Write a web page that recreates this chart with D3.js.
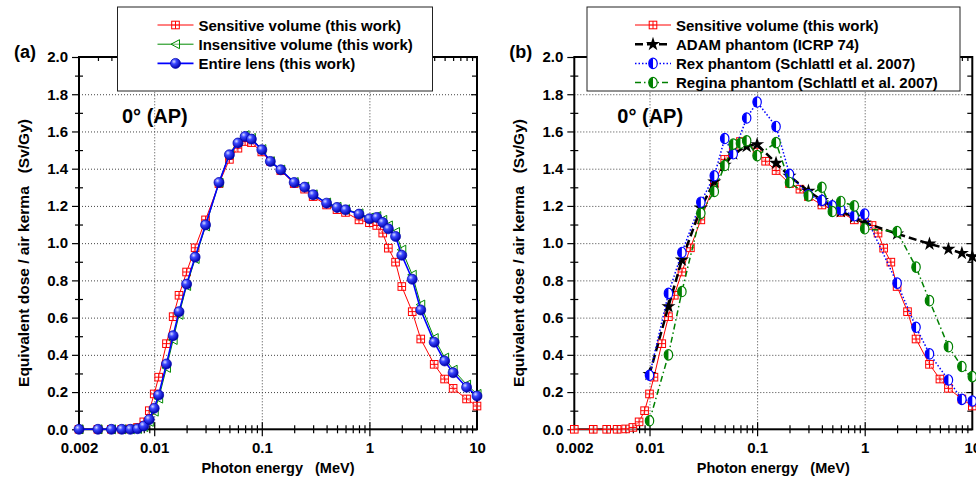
<!DOCTYPE html>
<html>
<head>
<meta charset="utf-8">
<script src="https://d3js.org/d3.v7.min.js"></script>
<style>
    body { margin: 0; background: #fff; }
    svg { display: block; font-family: "Liberation Sans", Arial, sans-serif; font-weight: bold; }
    .pre { white-space: pre; }
</style>
</head>
<body>
<svg id="drawing_region"></svg>
<script>
// photon energies (MeV) used for the lens model of this work
const energies = [0.002, 0.003, 0.004, 0.005, 0.006, 0.007, 0.008, 0.009,
    0.01, 0.011, 0.013, 0.015, 0.017, 0.02, 0.024, 0.03,
    0.04, 0.05, 0.06, 0.07, 0.08, 0.1, 0.12, 0.15,
    0.2, 0.25, 0.3, 0.4, 0.5, 0.6, 0.8, 1,
    1.17, 1.33, 1.5, 1.75, 2, 2.5, 3, 4,
    5, 6, 8, 10];

const sensitiveVolume = [0, 0, 0, 0, 0.002, 0.01, 0.04, 0.10,
    0.19, 0.28, 0.46, 0.605, 0.72, 0.845, 0.975, 1.125,
    1.32, 1.45, 1.51, 1.546, 1.54, 1.49, 1.44, 1.39,
    1.32, 1.29, 1.25, 1.205, 1.18, 1.165, 1.125, 1.11,
    1.095, 1.054, 0.973, 0.898, 0.767, 0.632, 0.485, 0.349,
    0.27, 0.22, 0.163, 0.125];

const insensitiveVolume = [0, 0, 0, 0, 0, 0.002, 0.012, 0.04,
    0.095, 0.165, 0.33, 0.48, 0.615, 0.77, 0.915, 1.09,
    1.325, 1.48, 1.545, 1.58, 1.565, 1.505, 1.44, 1.395,
    1.328, 1.303, 1.262, 1.218, 1.195, 1.182, 1.16, 1.137,
    1.145, 1.125, 1.095, 1.06, 0.965, 0.83, 0.67, 0.49,
    0.385, 0.32, 0.24, 0.19];

const entireLens = [0, 0, 0, 0, 0, 0.003, 0.018, 0.053,
    0.113, 0.184, 0.351, 0.503, 0.632, 0.78, 0.925, 1.098,
    1.326, 1.475, 1.538, 1.573, 1.559, 1.502, 1.439, 1.394,
    1.326, 1.301, 1.26, 1.215, 1.192, 1.179, 1.156, 1.131,
    1.138, 1.111, 1.077, 1.036, 0.935, 0.806, 0.641, 0.468,
    0.367, 0.304, 0.226, 0.179];

// ADAM phantom (ICRP 74)
const adamEnergies = [0.01, 0.015, 0.02, 0.03, 0.04, 0.05, 0.06, 0.08, 0.1, 0.15,
    0.2, 0.3, 0.4, 0.5, 0.6, 0.8, 1, 2, 4, 6, 8, 10];
const adamPhantom = [0.296, 0.66, 0.91, 1.19, 1.33, 1.42, 1.48, 1.52, 1.53, 1.43,
    1.36, 1.28, 1.23, 1.2, 1.17, 1.14, 1.11, 1.05, 0.996, 0.968, 0.946, 0.928];

// Rex and Regina phantoms (Schlattl et al. 2007)
const rexEnergies = [0.01, 0.015, 0.02, 0.03, 0.04, 0.05, 0.06, 0.08, 0.1, 0.15,
    0.2, 0.3, 0.4, 0.5, 0.6, 0.8, 1, 2, 3, 4, 6, 8, 10];
const rexPhantom = [0.29, 0.73, 0.95, 1.22, 1.362, 1.562, 1.48, 1.672, 1.758, 1.627,
    1.37, 1.26, 1.23, 1.2, 1.18, 1.147, 1.156, 0.785, 0.548, 0.405, 0.265, 0.161, 0.152];

const reginaEnergies = [0.01, 0.015, 0.02, 0.03, 0.04, 0.05, 0.06, 0.07, 0.08, 0.1, 0.15,
    0.2, 0.3, 0.4, 0.5, 0.6, 0.8, 1, 2, 3, 4, 6, 8, 10];
const reginaPhantom = [0.046, 0.40, 0.74, 1.16, 1.278, 1.417, 1.532, 1.537, 1.55, 1.47, 1.54,
    1.326, 1.254, 1.30, 1.17, 1.224, 1.2, 1.077, 1.062, 0.871, 0.691, 0.444, 0.337, 0.283];

const xTickValues = [0.002, 0.01, 0.1, 1, 10];
const xTickLabels = ['0.002', '0.01', '0.1', '1', '10'];
const yTickValues = [0, 0.2, 0.4, 0.6, 0.8, 1.0, 1.2, 1.4, 1.6, 1.8, 2.0];
const yTickLabels = ['0.0', '0.2', '0.4', '0.6', '0.8', '1.0', '1.2', '1.4', '1.6', '1.8', '2.0'];

const svg = d3.select('#drawing_region')
    .attr('width', 976)
    .attr('height', 481);

const defs = svg.append('defs');
const grad = defs.append('radialGradient')
    .attr('id', 'ball')
    .attr('cx', 0.35).attr('cy', 0.32).attr('r', 0.7);
grad.append('stop').attr('offset', 0).attr('stop-color', '#d8dcff');
grad.append('stop').attr('offset', 0.35).attr('stop-color', '#3b48ff');
grad.append('stop').attr('offset', 1).attr('stop-color', '#0000a8');

function drawMarker(g, type, color) {
    if (type === 'squarecross') {
        g.append('rect').attr('x', -3.8).attr('y', -3.8).attr('width', 7.6).attr('height', 7.6)
            .attr('fill', '#fff').attr('fill-opacity', 0.5).attr('stroke', color).attr('stroke-width', 1);
        g.append('path').attr('d', 'M0,-3.8V3.8M-3.8,0H3.8')
            .attr('stroke', color).attr('stroke-width', 1);
    } else if (type === 'lefttri') {
        g.append('path').attr('d', 'M-4.5,0L4,-4.5L4,4.5Z')
            .attr('fill', '#fff').attr('fill-opacity', 0.4).attr('stroke', color).attr('stroke-width', 1);
    } else if (type === 'ball') {
        g.append('circle').attr('r', 5)
            .attr('fill', 'url(#ball)').attr('stroke', '#0000b0').attr('stroke-width', 0.7);
    } else if (type === 'star') {
        g.append('path').attr('d', d3.symbol(d3.symbolStar).size(62)())
            .attr('fill', '#000');
    } else if (type === 'halfhex') {
        g.append('ellipse').attr('rx', 4.2).attr('ry', 5.2)
            .attr('fill', '#fff').attr('stroke', color).attr('stroke-width', 1.2);
        g.append('path').attr('d', 'M0,-5.2A4.2,5.2 0 0,0 0,5.2Z').attr('fill', color);
    }
}

function drawPanel(cfg) {
    const g = svg.append('g');
    const x = d3.scaleLog().domain([0.002, 10]).range([cfg.left, cfg.right]);
    const y = d3.scaleLinear().domain([0, 2]).range([cfg.bottom, cfg.top]);
    const h = cfg.bottom - cfg.top;
    const w = cfg.right - cfg.left;

    // dotted grid
    g.append('g')
        .attr('transform', `translate(0,${cfg.bottom})`)
        .call(d3.axisBottom(x).tickValues([0.01, 0.1, 1]).tickSize(-h).tickFormat(''))
        .call(a => a.select('.domain').remove())
        .call(a => a.selectAll('line').attr('stroke', '#444').attr('stroke-dasharray', '1,2'));
    g.append('g')
        .attr('transform', `translate(${cfg.left},0)`)
        .call(d3.axisLeft(y).tickValues(yTickValues.slice(1, -1)).tickSize(-w).tickFormat(''))
        .call(a => a.select('.domain').remove())
        .call(a => a.selectAll('line').attr('stroke', '#444').attr('stroke-dasharray', '1,2'));

    // tick marks
    const minorX = [];
    [0.001, 0.01, 0.1, 1].forEach(dec => {
        for (let k = 2; k <= 9; k++) {
            const v = +(k * dec).toPrecision(3);
            if (v > 0.002 && v < 10) minorX.push(v);
        }
    });
    const minorY = d3.range(0.1, 2, 0.2);
    const tickGroup = (axis, tr) => g.append('g')
        .attr('transform', tr)
        .call(axis)
        .call(a => a.select('.domain').remove())
        .call(a => a.selectAll('line').attr('stroke', '#000').attr('stroke-width', 1.2));

    const bot = `translate(0,${cfg.bottom})`;
    const top = `translate(0,${cfg.top})`;
    const lft = `translate(${cfg.left},0)`;
    const rgt = `translate(${cfg.right},0)`;
    tickGroup(d3.axisBottom(x).tickValues(minorX).tickSize(4).tickFormat(''), bot);
    tickGroup(d3.axisTop(x).tickValues(minorX).tickSize(4).tickFormat(''), bot);
    tickGroup(d3.axisBottom(x).tickValues([0.01, 0.1, 1]).tickSize(7).tickFormat(''), bot);
    tickGroup(d3.axisTop(x).tickValues([0.01, 0.1, 1]).tickSize(7).tickFormat(''), bot);
    tickGroup(d3.axisBottom(x).tickValues(minorX).tickSize(4).tickFormat(''), top);
    tickGroup(d3.axisBottom(x).tickValues([0.01, 0.1, 1]).tickSize(7).tickFormat(''), top);
    tickGroup(d3.axisLeft(y).tickValues(yTickValues).tickSize(7).tickFormat(''), lft);
    tickGroup(d3.axisLeft(y).tickValues(minorY).tickSize(4).tickFormat(''), lft);
    tickGroup(d3.axisRight(y).tickValues(minorY).tickSize(4).tickFormat(''), lft);
    tickGroup(d3.axisLeft(y).tickValues(yTickValues).tickSize(6).tickFormat(''), rgt);
    tickGroup(d3.axisLeft(y).tickValues(minorY).tickSize(5).tickFormat(''), rgt);

    // tick labels
    g.append('g')
        .attr('transform', bot)
        .call(d3.axisBottom(x).tickValues(xTickValues).tickSize(0).tickPadding(13)
            .tickFormat((d, i) => xTickLabels[i]))
        .call(a => a.select('.domain').remove())
        .call(a => a.selectAll('text').attr('font-size', 15).attr('font-weight', 'bold')
            .attr('font-family', '"Liberation Sans", Arial, sans-serif').attr('fill', '#000'));
    g.append('g')
        .attr('transform', lft)
        .call(d3.axisLeft(y).tickValues(yTickValues).tickSize(0).tickPadding(11)
            .tickFormat((d, i) => yTickLabels[i]))
        .call(a => a.select('.domain').remove())
        .call(a => a.selectAll('text').attr('font-size', 15).attr('font-weight', 'bold')
            .attr('font-family', '"Liberation Sans", Arial, sans-serif').attr('fill', '#000'));

    // frame
    g.append('rect')
        .attr('x', cfg.left).attr('y', cfg.top).attr('width', w).attr('height', h)
        .attr('fill', 'none').attr('stroke', '#000').attr('stroke-width', 2);

    // series
    cfg.series.forEach(s => {
        const pts = s.xs.map((e, i) => [e, s.ys[i]]);
        const line = d3.line().x(d => x(d[0])).y(d => y(d[1]));
        g.append('path')
            .attr('d', line(pts))
            .attr('fill', 'none')
            .attr('stroke', s.color)
            .attr('stroke-width', s.width)
            .attr('stroke-dasharray', s.dash || null);
        g.append('g').selectAll('g')
            .data(pts)
            .join('g')
            .attr('transform', d => `translate(${x(d[0])},${y(d[1])})`)
            .each(function () { drawMarker(d3.select(this), s.marker, s.color); });
    });

    // panel label and angle
    g.append('text').attr('x', cfg.left - 65).attr('y', cfg.top + 1)
        .attr('font-size', 18).text(cfg.tag);
    g.append('text').attr('x', cfg.left + 43).attr('y', cfg.top + 66)
        .attr('font-size', 20).text('0° (AP)');

    // axis titles
    g.append('text').attr('class', 'pre')
        .attr('x', (cfg.left + cfg.right) / 2).attr('y', 473)
        .attr('text-anchor', 'middle').attr('font-size', 14.5)
        .text('Photon energy   (MeV)');
    g.append('text').attr('class', 'pre')
        .attr('transform', `translate(${cfg.left - 50},${cfg.top + 196}) rotate(-90)`)
        .attr('text-anchor', 'middle').attr('font-size', 15.5)
        .text('Equivalent dose / air kerma   (Sv/Gy)');

    // legend
    const lg = g.append('g');
    lg.append('rect')
        .attr('x', cfg.legend.x).attr('y', 7)
        .attr('width', cfg.legend.w).attr('height', 84)
        .attr('fill', '#fff').attr('stroke', '#222').attr('stroke-width', 1);
    cfg.series.forEach((s, i) => {
        const ry = 25 + i * 19.2;
        const ly = lg.append('g');
        ly.append('line')
            .attr('x1', cfg.legend.x + cfg.legend.lineStart).attr('x2', cfg.legend.x + cfg.legend.lineStart + 36)
            .attr('y1', ry).attr('y2', ry)
            .attr('stroke', s.color).attr('stroke-width', s.width)
            .attr('stroke-dasharray', s.dash || null);
        drawMarker(ly.append('g').attr('transform', `translate(${cfg.legend.x + cfg.legend.lineStart + 18},${ry})`),
            s.marker, s.color);
        ly.append('text')
            .attr('x', cfg.legend.x + cfg.legend.lineStart + 41).attr('y', ry + 5.5)
            .attr('font-size', 15).text(s.label);
    });
}

drawPanel({
    tag: '(a)',
    left: 79, right: 477, top: 57, bottom: 429.3,
    legend: { x: 117.5, w: 315, lineStart: 40 },
    series: [
        { label: 'Sensitive volume (this work)', xs: energies, ys: sensitiveVolume,
          color: '#ff0000', width: 1, marker: 'squarecross' },
        { label: 'Insensitive volume (this work)', xs: energies, ys: insensitiveVolume,
          color: '#008a00', width: 1, marker: 'lefttri' },
        { label: 'Entire lens (this work)', xs: energies, ys: entireLens,
          color: '#0000ff', width: 1.6, marker: 'ball' }
    ]
});

drawPanel({
    tag: '(b)',
    left: 574.3, right: 972.3, top: 57, bottom: 429.3,
    legend: { x: 587, w: 373, lineStart: 48 },
    series: [
        { label: 'Sensitive volume (this work)', xs: energies, ys: sensitiveVolume,
          color: '#ff0000', width: 1, marker: 'squarecross' },
        { label: 'ADAM phantom (ICRP 74)', xs: adamEnergies, ys: adamPhantom,
          color: '#000000', width: 2.5, dash: '8,4', marker: 'star' },
        { label: 'Rex phantom (Schlattl et al. 2007)', xs: rexEnergies, ys: rexPhantom,
          color: '#0000ff', width: 1.5, dash: '1.5,2', marker: 'halfhex' },
        { label: 'Regina phantom (Schlattl et al. 2007)', xs: reginaEnergies, ys: reginaPhantom,
          color: '#008000', width: 1.5, dash: '6,3,1.5,3', marker: 'halfhex' }
    ]
});
</script>
</body>
</html>
